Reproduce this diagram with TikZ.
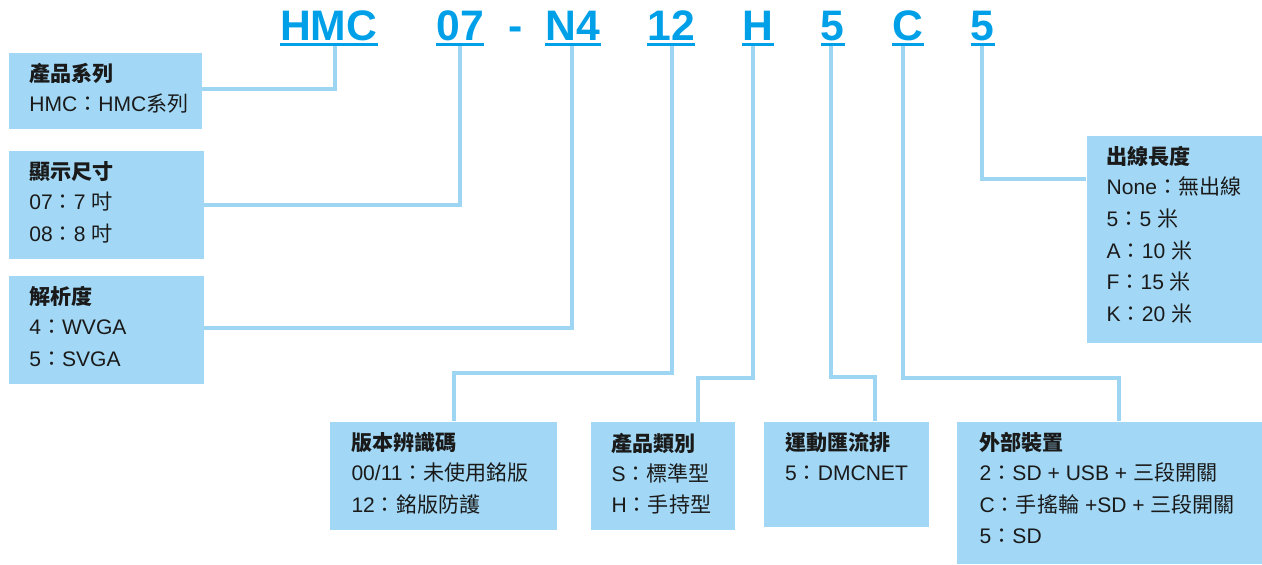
\documentclass[tikz,border=0pt]{standalone}
\usepackage{fontspec}
\setmainfont{Liberation Sans}
\newfontfamily\cjk{Noto Sans CJK TC}
\usetikzlibrary{calc,fit}
\definecolor{hblue}{HTML}{00A0E9}
\definecolor{bfill}{HTML}{A2D8F5}
\definecolor{cline}{HTML}{9DD5F2}
\definecolor{tblack}{HTML}{1A1A1A}
\newcommand\cc[1]{{\cjk #1}}
\tikzset{
 hdr/.style={anchor=base, inner sep=0pt, text=hblue, font=\fontsize{32}{32}\selectfont\bfseries},
 uline/.style={draw=hblue, line width=1.9pt},
 infobox/.style={fill=bfill, draw=none, inner sep=0pt},
 ttl/.style={anchor=base west, inner sep=0pt, text=tblack, font=\fontsize{15.8}{15.8}\selectfont\cjk\bfseries},
 txt/.style={anchor=base west, inner sep=0pt, text=tblack, font=\fontsize{15.8}{15.8}\selectfont},
 conn/.style={draw=cline, line width=3pt},
}
\begin{document}
\begin{tikzpicture}[x=0.75pt,y=-0.75pt]
\useasboundingbox (0,0) rectangle (1262,564);
% header
\node[hdr] (h1) at (328.7,40.7) {HMC};
\node[hdr] (h2) at (460.3,40.7) {07};
\node[hdr] (h0) at (515.8,40.7) {-};
\node[hdr] (h3) at (573,40.7) {N4};
\node[hdr] (h4) at (671.2,40.7) {12};
\node[hdr] (h5) at (758,40.7) {H};
\node[hdr] (h6) at (832.7,40.7) {5};
\node[hdr] (h7) at (908,40.7) {C};
\node[hdr] (h8) at (982.7,40.7) {5};
\foreach \h in {h1,h2,h3,h4,h5,h6,h7,h8}
  \draw[uline] ($(\h.base west)+(0,3.8)$) -- ($(\h.base east)+(0,3.8)$);
% boxes
\node[infobox, fit={(9.3,52.7)(202,129.3)}] (b1) {};
\node[infobox, fit={(9.3,151)(204,259)}] (b2) {};
\node[infobox, fit={(9.3,276)(204,384)}] (b3) {};
\node[infobox, fit={(330,421.7)(557.3,530)}] (b4) {};
\node[infobox, fit={(590.7,422.3)(735,530)}] (b5) {};
\node[infobox, fit={(764,421.7)(929,526.7)}] (b6) {};
\node[infobox, fit={(956.7,421.7)(1262,564)}] (b7) {};
\node[infobox, fit={(1086.7,136)(1262,343.3)}] (b8) {};
% connectors
\coordinate (c1) at (334.7,46);
\coordinate (c2) at (460.3,46);
\coordinate (c3) at (572,46);
\coordinate (c4) at (672,46);
\coordinate (c5) at (753.3,46);
\coordinate (c6) at (830.7,46);
\coordinate (c7) at (903.3,46);
\coordinate (c8) at (981.7,46);
\draw[conn] (c1) |- (b1.east |- 0,88.7);
\draw[conn] (c2) |- (b2.east |- 0,204.7);
\draw[conn] (c3) |- (b3.east |- 0,328);
\draw[conn] (c4) -- (672,373.3) -| (b4.north -| 454.3,0);
\draw[conn] (c5) -- (753.3,378.3) -| (b5.north -| 698.3,0);
\draw[conn] (c6) -- (830.7,376.7) -| (b6.north -| 875,0);
\draw[conn] (c7) -- (903.3,377.7) -| (b7.north -| 1119,0);
\draw[conn] (c8) |- (b8.west |- 0,178.7);
% texts
\node[ttl] (b1t) at ($(b1.north west)+(20,29)$) {產品系列};
\node[txt] (b1a) at ($(b1.north west)+(20,59)$) {HMC\cc{：}HMC\cc{系列}};
\node[ttl] (b2t) at ($(b2.north west)+(20,29)$) {顯示尺寸};
\node[txt] (b2a) at ($(b2.north west)+(20,59)$) {07\cc{：}7 \cc{吋}};
\node[txt] (b2b) at ($(b2.north west)+(20,90.7)$) {08\cc{：}8 \cc{吋}};
\node[ttl] (b3t) at ($(b3.north west)+(20,29)$) {解析度};
\node[txt] (b3a) at ($(b3.north west)+(20,59)$) {4\cc{：}WVGA};
\node[txt] (b3b) at ($(b3.north west)+(20,90.7)$) {5\cc{：}SVGA};
\node[ttl] (b4t) at ($(b4.north west)+(21.5,29)$) {版本辨識碼};
\node[txt] (b4a) at ($(b4.north west)+(21.5,59)$) {00/11\cc{：未使用銘版}};
\node[txt] (b4b) at ($(b4.north west)+(21.5,90.7)$) {12\cc{：銘版防護}};
\node[ttl] (b5t) at ($(b5.north west)+(21,29)$) {產品類別};
\node[txt] (b5a) at ($(b5.north west)+(21,59)$) {S\cc{：標準型}};
\node[txt] (b5b) at ($(b5.north west)+(21,90.7)$) {H\cc{：手持型}};
\node[ttl] (b6t) at ($(b6.north west)+(21,29)$) {運動匯流排};
\node[txt] (b6a) at ($(b6.north west)+(21,59)$) {5\cc{：}DMCNET};
\node[ttl] (b7t) at ($(b7.north west)+(23,29)$) {外部裝置};
\node[txt] (b7a) at ($(b7.north west)+(23,59)$) {2\cc{：}SD + USB + \cc{三段開關}};
\node[txt] (b7b) at ($(b7.north west)+(23,90.7)$) {C\cc{：手搖輪} +SD + \cc{三段開關}};
\node[txt] (b7c) at ($(b7.north west)+(23,122.4)$) {5\cc{：}SD};
\node[ttl] (b8t) at ($(b8.north west)+(20,29)$) {出線長度};
\node[txt] (b8a) at ($(b8.north west)+(20,59)$) {None\cc{：無出線}};
\node[txt] (b8b) at ($(b8.north west)+(20,90.7)$) {5\cc{：}5 \cc{米}};
\node[txt] (b8c) at ($(b8.north west)+(20,122.4)$) {A\cc{：}10 \cc{米}};
\node[txt] (b8d) at ($(b8.north west)+(20,154.1)$) {F\cc{：}15 \cc{米}};
\node[txt] (b8e) at ($(b8.north west)+(20,185.8)$) {K\cc{：}20 \cc{米}};
\end{tikzpicture}
\end{document}
